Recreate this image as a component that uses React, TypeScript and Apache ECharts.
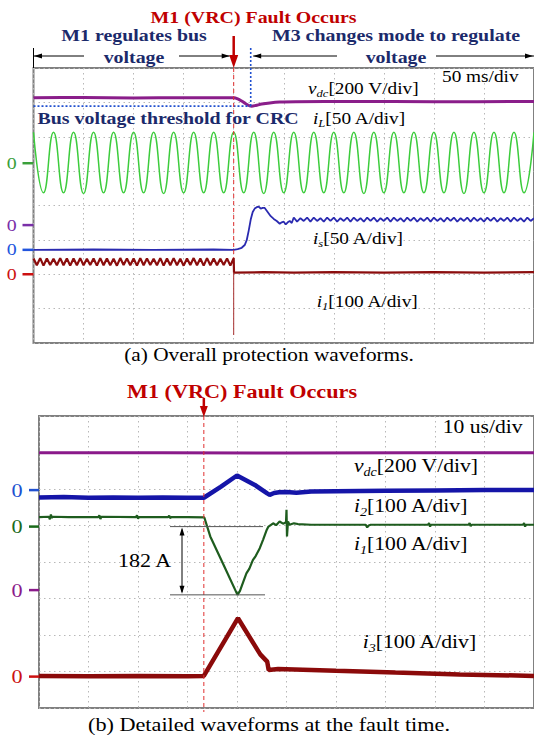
import React, { useEffect, useRef } from "react";
import * as echarts from "echarts";

const SERIF = '"Liberation Serif", "Times New Roman", serif';
const SX = 1.17; // horizontal stretch of the original figure's lettering

// ---------------- Panel (a): 50 ms/div, time in ms ----------------
const A_TIME_MAX = 500;
const A_TIME_DIV = 50;
const A_FAULT_T = 200;
const A_THRESHOLD_T = 217;
const A_THRESHOLD_V = 692;

const vdcA: [number, number][] = [
  [0, 741], [50, 742], [100, 740], [150, 741], [200, 741],
  [204, 735], [208, 722], [212, 706], [216, 694], [218, 692],
  [222, 696], [228, 704], [236, 711], [246, 716], [262, 718],
  [320, 719], [400, 718], [500, 719],
];

// iL peaks / troughs every 10 ms (50 Hz)
const iLExtremes = [
  45, -43, 45, -43, 45, -44, 45, -43, 45, -43,
  45, -43, 45, -44, 45, -43, 45, -43, 45, -43,
  45, -43, 45, -44, 45, -43, 45, -43, 45, -43,
  45, -43, 45, -44, 45, -43, 45, -43, 45, -43,
  45, -43, 45, -44, 45, -43, 45, -43, 45, -43,
  45,
];
const iLStep = 10;

const isTransient: [number, number][] = [
  [0, 0], [60, 0.5], [120, 0], [180, 0.5], [200, 0], [204, 1], [208, 3],
  [211, 7], [213, 14], [215, 28], [217, 44], [219, 55], [221, 60], [223, 62],
  [225, 63], [227, 60], [229, 61], [231, 61], [233, 57], [235, 53], [237, 49],
  [240, 45], [243, 42], [246, 38], [248, 40], [250, 41], [252, 37], [254, 40],
  [256, 42], [258, 39],
];
const isRippleStart = 260;
const isRippleStep = 10 / 3;
const isRipple = [
  47, 41, 46, 42, 47, 41, 47, 42, 46, 41,
  47, 42, 47, 41, 46, 42, 47, 41, 47, 42,
  46, 41, 47, 42, 47, 41, 46, 42, 47, 41,
  47, 42, 46, 41, 47, 42, 47, 41, 46, 42,
  47, 41, 47, 42, 46, 41, 47, 42, 47, 41,
  46, 42, 47, 41, 47, 42, 46, 41, 47, 42,
  47, 41, 46, 42, 47, 41, 47, 42, 46, 41,
  47, 42, 46,
];

const i1PreStep = 10 / 3;
const i1PreRipple = [
  46, 26, 47, 25, 46, 27, 45, 26, 47, 26,
  46, 25, 46, 26, 47, 26, 45, 27, 46, 25,
  47, 26, 46, 26, 45, 25, 47, 27, 46, 26,
  46, 25, 47, 26, 46, 27, 45, 26, 47, 25,
  46, 26, 47, 26, 45, 25, 46, 27, 47, 26,
  46, 25, 47, 26, 46, 26, 45, 27, 46, 25,
  47,
];
const i1Post: [number, number][] = [
  [200.3, 5], [230, 6], [260, 5], [300, 6], [350, 5], [400, 6], [450, 5], [500, 6],
];

// ---------------- Panel (b): 10 us/div, time in us ----------------
const B_TIME_MAX = 100;
const B_TIME_DIV = 10;
const B_FAULT_T = 33.3;

const vdcB: [number, number][] = [[0, 752], [25, 753], [50, 751], [75, 752], [100, 752]];

const i2B: [number, number][] = [
  [0, -20], [5, -19], [10, -21], [15, -20], [20, -21], [25, -20], [30, -21],
  [33.3, -21], [36.7, 9], [40, 40], [43.6, 14], [46.1, -9], [46.6, -13],
  [47.5, -8], [48.5, -6], [50, -5], [52, -7], [55, -4], [60, -3], [70, -2],
  [80, -1], [90, 0], [100, 0],
];

const i1B: [number, number][] = [
  [0, 26], [2, 27], [2.2, 20], [2.4, 33], [2.6, 24], [2.8, 27], [6, 26],
  [12, 26], [12.2, 31], [12.4, 21], [12.6, 27], [19.6, 26], [19.8, 31],
  [20, 22], [20.2, 26], [26.1, 26], [26.3, 30], [26.5, 23], [26.7, 26],
  [30, 26], [33.4, 25], [34.6, -27], [37.3, -105], [40.1, -187], [40.6, -176],
  [41.3, -150], [41.9, -128], [42.5, -115], [43.2, -92], [43.8, -80],
  [44.6, -59], [45.3, -35], [46, -9], [46.3, -1], [46.8, 4], [47.3, 9],
  [47.9, 4], [48.6, 14], [49.3, 8], [49.9, 12], [50, 46], [50.1, -27],
  [50.3, 14], [50.6, 5], [51.5, 9], [52.3, 7], [55, 5], [60, 5], [66, 5],
  [66.3, -2], [66.6, 3], [67, 5], [78.6, 5], [78.8, 10], [79, 0], [79.2, 5],
  [86.8, 5], [87, 10], [87.2, 1], [87.4, 5], [97.8, 5], [98, 10], [98.2, 0],
  [98.4, 5], [100, 5],
];

const i3B: [number, number][] = [
  [0, 2], [10, 1], [20, 2], [30, 1], [33.3, 2], [40.2, 160], [44.7, 61],
  [46.1, 41], [46.4, 18], [48.3, 21], [60, 16], [72, 11], [85, 6], [100, 2],
];

const I1_DROP_LABEL = "182 A";

// ---------------- layout / style (not data) ----------------
const DIVS = 8;
const GRID_A = { left: 33.5, top: 68, width: 506, height: 275 };
const GRID_B = { left: 39, top: 416, width: 499, height: 292 };

type Ch = { perDiv: number; zeroDiv: number; color: string; marker: string; width: number };
const CH_A: Ch[] = [
  { perDiv: 200, zeroDiv: 3.43, color: "#8a1e8a", marker: "#7a30a8", width: 3 },
  { perDiv: 50, zeroDiv: 5.23, color: "#3ccc3c", marker: "#3aa03a", width: 1.5 },
  { perDiv: 50, zeroDiv: 2.71, color: "#2a2ab0", marker: "#2255dd", width: 1.8 },
  { perDiv: 100, zeroDiv: 2.0, color: "#8b0d0d", marker: "#cc1111", width: 2.2 },
];
const CH_B: Ch[] = [
  { perDiv: 200, zeroDiv: 3.23, color: "#8a1a8a", marker: "#8a1a8a", width: 3 },
  { perDiv: 100, zeroDiv: 5.97, color: "#1515a8", marker: "#2050d0", width: 4.5 },
  { perDiv: 100, zeroDiv: 4.97, color: "#1e5c1e", marker: "#1a6a1a", width: 2.2 },
  { perDiv: 100, zeroDiv: 0.86, color: "#8b0a0a", marker: "#cc1111", width: 4.5 },
];

const NAVY = "#1b2a6b";
const RED = "#c00000";
const GRIDLINE = { color: "#b8b8b8", width: 1, type: [1.5, 3.5] as any };

function chAxis(gridIndex: number, c: Ch) {
  return {
    type: "value",
    gridIndex,
    show: false,
    min: -c.zeroDiv * c.perDiv,
    max: (DIVS - c.zeroDiv) * c.perDiv,
    splitLine: { show: false },
  };
}
function divAxis(gridIndex: number) {
  return {
    type: "value",
    gridIndex,
    min: 0,
    max: DIVS,
    interval: 1,
    axisLine: { show: false },
    axisTick: { show: false },
    axisLabel: { show: false },
    splitLine: { show: true, lineStyle: GRIDLINE },
  };
}
function timeAxis(gridIndex: number, max: number, interval: number) {
  return {
    type: "value",
    gridIndex,
    min: 0,
    max,
    interval,
    axisLine: { show: false },
    axisTick: { show: false },
    axisLabel: { show: false },
    splitLine: { show: true, lineStyle: GRIDLINE },
  };
}
function line(xi: number, yi: number, data: [number, number][], c: Ch, smooth: boolean | number = false) {
  return {
    type: "line",
    xAxisIndex: xi,
    yAxisIndex: yi,
    data,
    showSymbol: false,
    symbol: "none",
    smooth,
    silent: true,
    clip: true,
    lineStyle: { color: c.color, width: c.width },
  };
}

function txt(x: number, y: number, text: string, o: any = {}) {
  return {
    type: "text",
    x,
    y,
    scaleX: SX,
    silent: true,
    z: 100,
    style: {
      text,
      fill: o.fill || "#000",
      fontSize: o.size || 17,
      fontWeight: o.bold ? "bold" : "normal",
      fontStyle: o.italic ? "italic" : "normal",
      fontFamily: SERIF,
      align: o.align || "center",
      textAlign: o.align || "center",
      verticalAlign: "middle",
      textVerticalAlign: "middle",
      rich: o.rich,
    },
  };
}
function chLabel(x: number, y: number, v: string, sub: string, rest: string, size: number) {
  const rich = {
    i: { fontStyle: "italic", fontSize: size, fontFamily: SERIF, fill: "#000", color: "#000", verticalAlign: "top" },
    s: {
      fontStyle: "italic",
      fontSize: size * 0.65,
      fontFamily: SERIF,
      fill: "#000",
      color: "#000",
      verticalAlign: "top",
      padding: [size * 0.5, 0, 0, 0],
    },
    n: { fontSize: size, fontFamily: SERIF, fill: "#000", color: "#000", verticalAlign: "top" },
  };
  return txt(x, y, `{i|${v}}{s|${sub}}{n|${rest}}`, { align: "left", size, rich });
}
function seg(x1: number, y1: number, x2: number, y2: number, color: string, width = 1, dash?: number[]) {
  return {
    type: "line",
    silent: true,
    z: 90,
    shape: { x1, y1, x2, y2 },
    style: { stroke: color, lineWidth: width, lineDash: dash },
  };
}
function tri(points: number[][], color: string) {
  return { type: "polygon", silent: true, z: 91, shape: { points }, style: { fill: color } };
}

export default function App() {
  const ref = useRef<HTMLDivElement>(null);
  useEffect(() => {
    const chart = echarts.init(ref.current!, null, { renderer: "svg" });

    const iLData: [number, number][] = iLExtremes.map((v, i) => [i * iLStep, v]);
    const isData: [number, number][] = [
      ...isTransient,
      ...isRipple.map((v, i) => [isRippleStart + i * isRippleStep, v] as [number, number]),
    ];
    const i1AData: [number, number][] = [
      ...i1PreRipple.map((v, i) => [i * i1PreStep, v] as [number, number]),
      ...i1Post,
    ];

    const option: any = {
      animation: false,
      backgroundColor: "#ffffff",
      grid: [
        { ...GRID_A, show: true, borderColor: "#808080", borderWidth: 2, backgroundColor: "transparent" },
        { ...GRID_B, show: true, borderColor: "#808080", borderWidth: 2, backgroundColor: "transparent" },
      ],
      xAxis: [timeAxis(0, A_TIME_MAX, A_TIME_DIV), timeAxis(1, B_TIME_MAX, B_TIME_DIV)],
      yAxis: [
        divAxis(0),
        ...CH_A.map((c) => chAxis(0, c)),
        divAxis(1),
        ...CH_B.map((c) => chAxis(1, c)),
      ],
      series: [
        line(0, 1, vdcA, CH_A[0], 0.3),
        line(0, 2, iLData, CH_A[1], true),
        line(0, 3, isData, CH_A[2]),
        line(0, 4, i1AData, CH_A[3]),
        line(1, 6, vdcB, CH_B[0]),
        line(1, 7, i2B, CH_B[1]),
        line(1, 8, i1B, CH_B[2]),
        line(1, 9, i3B, CH_B[3]),
      ],
    };
    chart.setOption(option);

    const px = (xi: number, v: number) => chart.convertToPixel({ xAxisIndex: xi } as any, v) as unknown as number;
    const py = (yi: number, v: number) => chart.convertToPixel({ yAxisIndex: yi } as any, v) as unknown as number;

    const fa = px(0, A_FAULT_T);
    const fb = px(1, B_FAULT_T);
    const thrX = px(0, A_THRESHOLD_T);
    const thrY = py(1, A_THRESHOLD_V);
    const aL = GRID_A.left;
    const bL = GRID_B.left;

    const g: any[] = [];
    // zero markers
    CH_A.forEach((c, k) => {
      const y = py(1 + k, 0);
      g.push(txt(11.7, y, "0", { fill: c.marker, size: 17, align: "center" }));
      g.push(seg(aL - 11, y, aL, y, c.marker, 2.5));
    });
    CH_B.forEach((c, k) => {
      const y = py(6 + k, 0);
      g.push(txt(17, y, "0", { fill: c.marker, size: 19, align: "center" }));
      g.push(seg(bL - 10, y, bL, y, c.marker, 2.5));
    });

    // ---- panel (a) annotations ----
    g.push(txt(253.5, 17, "M1 (VRC) Fault Occurs", { fill: RED, bold: true, size: 17 }));
    g.push(seg(fa, 36, fa, 57, RED, 2.5));
    g.push(tri([[fa - 4.5, 55], [fa + 4.5, 55], [fa, 68]], RED));
    g.push(txt(134, 35, "M1 regulates bus", { fill: NAVY, bold: true, size: 17 }));
    g.push(txt(134, 57, "voltage", { fill: NAVY, bold: true, size: 17 }));
    g.push(txt(396, 35, "M3 changes mode to regulate", { fill: NAVY, bold: true, size: 17 }));
    g.push(txt(396, 57, "voltage", { fill: NAVY, bold: true, size: 17 }));
    // left bracket arrow
    g.push(seg(aL, 48, aL, 68, "#000", 1));
    g.push(seg(aL, 56, 84, 56, "#000", 1));
    g.push(seg(179, 56, fa - 4, 56, "#000", 1));
    g.push(tri([[aL + 0.5, 56], [aL + 8.5, 53.5], [aL + 8.5, 58.5]], "#000"));
    g.push(tri([[fa - 4, 56], [fa - 12, 53.5], [fa - 12, 58.5]], "#000"));
    // right bracket arrow
    g.push(seg(thrX + 2.5, 56, 337, 56, "#000", 1));
    g.push(seg(436, 56, 534, 56, "#000", 1));
    g.push(tri([[thrX + 2.5, 56], [thrX + 10.5, 53.5], [thrX + 10.5, 58.5]], "#000"));
    g.push(tri([[533, 56], [525, 53.5], [525, 58.5]], "#000"));
    // threshold dotted lines
    g.push(seg(thrX, 48, thrX, thrY, "#2050d0", 1.6, [2, 2]));
    g.push(seg(aL, thrY, thrX, thrY, "#2050d0", 1.6, [2, 2]));
    // fault line
    g.push(seg(fa, 68, fa, 258, "#e03030", 1, [4, 3]));
    g.push(seg(fa, 272, fa, 335, "#a83030", 1));
    // labels
    g.push(txt(442, 76, "50 ms/div", { align: "left", size: 16.5 }));
    g.push(chLabel(308, 90, "v", "dc", "[200 V/div]", 16.5));
    g.push(txt(37.5, 118, "Bus voltage threshold for CRC", { fill: NAVY, bold: true, size: 17, align: "left" }));
    g.push(chLabel(313, 120, "i", "L", "[50 A/div]", 16.5));
    g.push(chLabel(313, 240, "i", "s", "[50 A/div]", 16.5));
    g.push(chLabel(316.7, 303, "i", "1", "[100 A/div]", 16.5));
    g.push(txt(269, 355, "(a) Overall protection waveforms.", { size: 18.2 }));

    // ---- panel (b) annotations ----
    g.push(txt(242, 392, "M1 (VRC) Fault Occurs", { fill: RED, bold: true, size: 19 }));
    g.push(seg(fb, 398, fb, 408, RED, 2.5));
    g.push(tri([[fb - 4, 406], [fb + 4, 406], [fb, 417]], RED));
    g.push(seg(fb, 416, fb, 712, "#e03030", 1, [4, 3]));
    g.push(txt(442.7, 427, "10 us/div", { align: "left", size: 18.5 }));
    g.push(chLabel(354, 467, "v", "dc", "[200 V/div]", 18.5));
    g.push(chLabel(354, 507, "i", "2", "[100 A/div]", 18.5));
    g.push(chLabel(354, 545, "i", "1", "[100 A/div]", 18.5));
    g.push(chLabel(362.7, 643, "i", "3", "[100 A/div]", 18.5));
    // 182 A annotation
    const i1Min = Math.min(...i1B.map((p) => p[1]));
    const yTop = py(8, 0);
    const yBot = py(8, i1Min);
    g.push(seg(170, yTop, 263, yTop, "#555", 1));
    g.push(seg(170, yBot, 265, yBot, "#555", 1));
    g.push(seg(182, yTop + 3, 182, yBot - 3, "#000", 1));
    g.push(tri([[182, yTop + 1], [179.5, yTop + 9], [184.5, yTop + 9]], "#000"));
    g.push(tri([[182, yBot - 1], [179.5, yBot - 9], [184.5, yBot - 9]], "#000"));
    g.push(txt(144.5, (yTop + yBot) / 2, I1_DROP_LABEL, { size: 18.8 }));
    g.push(txt(269, 725, "(b) Detailed waveforms at the fault time.", { size: 19 }));

    chart.setOption({ graphic: g });
    return () => chart.dispose();
  }, []);

  return (
    <div
      ref={ref}
      style={{ position: "absolute", left: 0, top: 0, width: 534, height: 735, background: "#fff" }}
    />
  );
}
